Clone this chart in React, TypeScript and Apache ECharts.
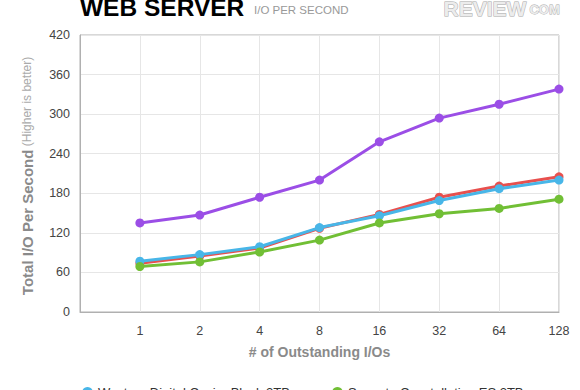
import React, { useEffect, useRef } from "react";
import * as echarts from "echarts";

const categories = ["", "1", "2", "4", "8", "16", "32", "64", "128"];
const yTicks = { min: 0, max: 420, interval: 60 };

const seriesNames = [
  "Hitachi Deskstar 7K3000 2TB",
  "Western Digital Caviar Black 2TB",
  "Seagate Constellation ES 2TB",
  "Seagate Barracuda XT 3TB",
];
const redValues = [null, 74, 85, 97, 127, 148, 174, 191, 205];
const blueValues = [null, 77, 87, 99, 128, 146, 169, 187, 200];
const greenValues = [null, 69, 76, 91, 109, 135, 149, 157, 171];
const purpleValues = [null, 135, 147, 174, 200, 258, 294, 315, 338];

const colors = ["#e8504e", "#48b6e8", "#71bf35", "#9b4ee6"];
const legendOrder = [seriesNames[1], seriesNames[2], seriesNames[0], seriesNames[3]];

export default function App() {
  const ref = useRef<HTMLDivElement>(null);
  useEffect(() => {
    if (!ref.current) return;
    const chart = echarts.init(ref.current, null, { renderer: "svg" });
    const values = [redValues, blueValues, greenValues, purpleValues];
    const font = "'Liberation Sans', Arial, Helvetica, sans-serif";
    chart.setOption({
      animation: false,
      backgroundColor: "#ffffff",
      textStyle: { fontFamily: font },
      grid: {
        left: 80,
        right: 21,
        top: 35,
        bottom: 78,
        show: true,
        borderColor: "#b0b0b0",
        borderWidth: 1,
      },
      legend: {
        data: legendOrder,
        top: 381,
        left: 77,
        width: 490,
        icon: "circle",
        itemWidth: 11,
        itemHeight: 11,
        itemGap: 42,
        textStyle: { color: "#333", fontSize: 13, fontFamily: font },
      },
      xAxis: {
        type: "category",
        data: categories,
        boundaryGap: false,
        axisLine: { show: true, lineStyle: { color: "#b0b0b0" } },
        axisTick: { show: false },
        axisLabel: { color: "#444", fontSize: 12.5, margin: 12 },
        splitLine: { show: true, lineStyle: { color: "#e6e6e6" } },
        name: "# of Outstanding I/Os",
        nameLocation: "middle",
        nameGap: 33,
        nameTextStyle: { color: "#8a8a8a", fontSize: 14, fontWeight: "bold" },
      },
      yAxis: {
        type: "value",
        min: yTicks.min,
        max: yTicks.max,
        interval: yTicks.interval,
        axisLine: { show: true, lineStyle: { color: "#b0b0b0" } },
        axisTick: { show: false },
        axisLabel: { color: "#444", fontSize: 12.5, margin: 10 },
        splitLine: { show: true, lineStyle: { color: "#e6e6e6" } },
      },
      graphic: [
        {
          type: "text",
          left: 80,
          top: -5,
          style: {
            text: "WEB SERVER",
            fill: "#000",
            font: `bold 24.5px ${font}`,
          },
        },
        {
          type: "text",
          left: 254,
          top: 4,
          style: {
            text: "I/O PER SECOND",
            fill: "#999",
            font: `11.5px ${font}`,
          },
        },
        {
          type: "text",
          left: 443,
          top: -3,
          style: {
            text: "REVIEW",
            fill: "#ececec",
            stroke: "#a8a8a8",
            lineWidth: 1,
            font: `bold 21px ${font}`,
          },
        },
        {
          type: "text",
          left: 529,
          top: 3,
          style: {
            text: "COM",
            fill: "#ececec",
            stroke: "#a8a8a8",
            lineWidth: 0.8,
            font: `bold 13px ${font}`,
          },
        },
        {
          type: "text",
          x: 27,
          y: 176,
          rotation: Math.PI / 2,
          style: {
            text: "{a|Total I/O Per Second} {b|(Higher is better)}",
            align: "center",
            verticalAlign: "middle",
            rich: {
              a: { fill: "#8a8a8a", fontSize: 15, fontWeight: "bold", fontFamily: font },
              b: { fill: "#aaa", fontSize: 12, fontFamily: font },
            },
          },
        },
      ],
      series: seriesNames.map((name, i) => ({
        name,
        type: "line",
        data: values[i],
        symbol: "circle",
        symbolSize: 9,
        lineStyle: { width: 3, color: colors[i] },
        itemStyle: { color: colors[i] },
        connectNulls: false,
        z: 2 + i,
      })),
    });
    return () => chart.dispose();
  }, []);
  return (
    <div
      ref={ref}
      style={{ position: "absolute", left: 0, top: 0, width: 580, height: 390 }}
    />
  );
}
